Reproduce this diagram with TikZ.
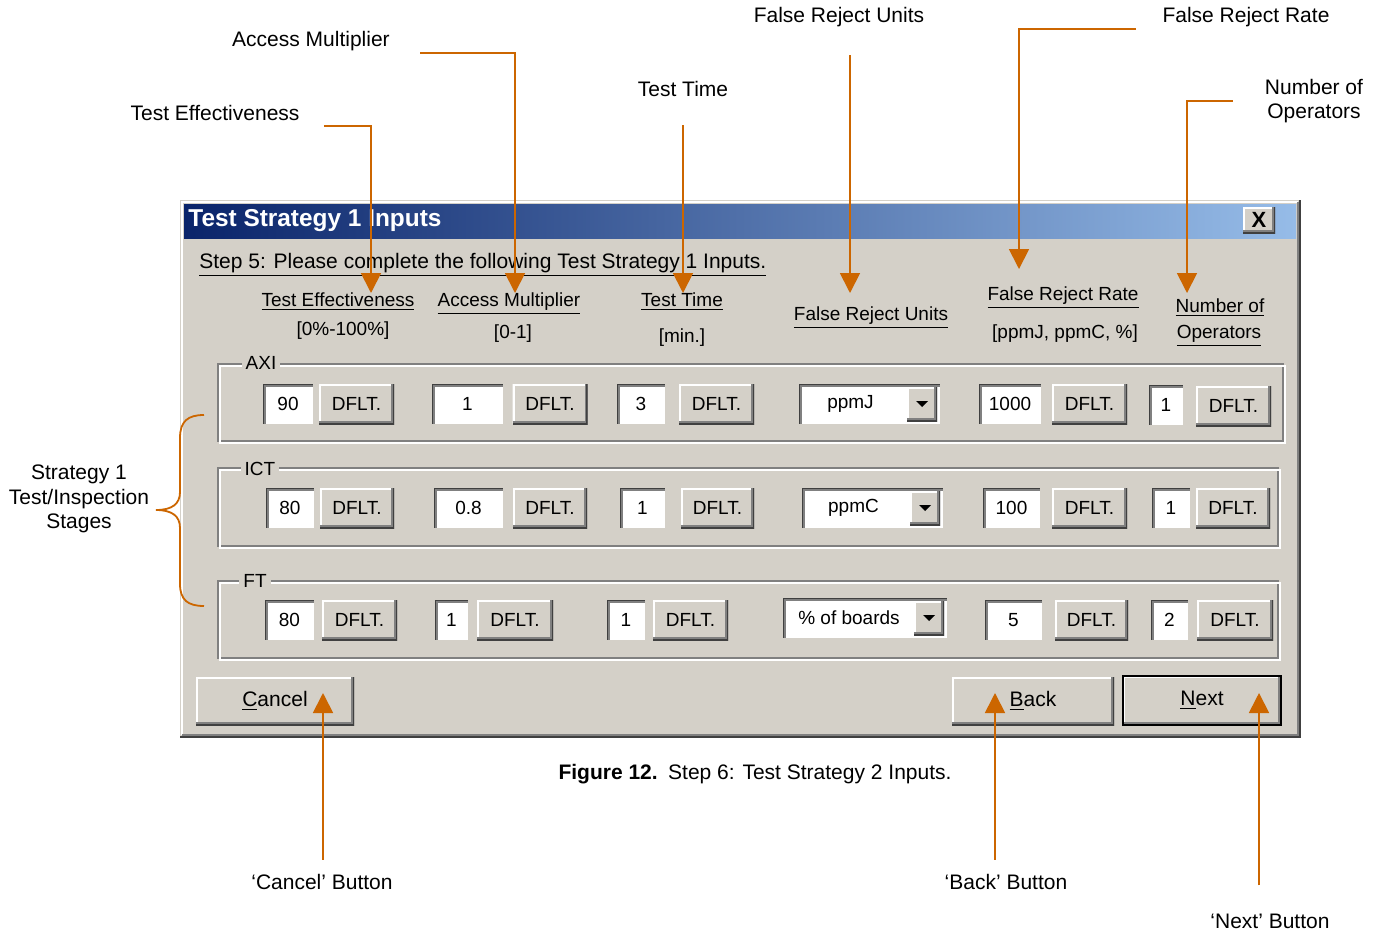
\documentclass[tikz,border=0pt]{standalone}
\usepackage{fontspec}
\setmainfont{Liberation Sans}
\usetikzlibrary{arrows.meta}

\definecolor{winFace}{RGB}{212,208,200}
\definecolor{winShadow}{RGB}{128,128,128}
\definecolor{winDark}{RGB}{64,64,64}
\definecolor{titleLeft}{RGB}{10,36,106}
\definecolor{titleRight}{RGB}{150,188,232}
\definecolor{noteOrange}{RGB}{204,102,0}

\begin{document}
\begin{tikzpicture}[x=0.5pt,y=-0.5pt,
    note/.style={font=\fontsize{10.5}{12.4}\selectfont, inner sep=1pt},
    ui/.style={font=\fontsize{9.5}{11}\selectfont, inner sep=0pt},
    sunken/.style={ui, rectangle, fill=white, minimum height=20pt,
      path picture={
        \draw[winShadow, line width=2.6pt] (path picture bounding box.south west)
          |- (path picture bounding box.north east);
        \draw[winDark, line width=1pt] (path picture bounding box.south west)
          |- (path picture bounding box.north east);
      }},
    raised/.style={ui, rectangle, fill=winFace, minimum height=20pt,
      path picture={
        \draw[white, line width=2pt] (path picture bounding box.south west)
          |- (path picture bounding box.north east);
        \draw[winShadow, line width=3pt] (path picture bounding box.south west)
          -| (path picture bounding box.north east);
        \draw[winDark, line width=1.4pt] (path picture bounding box.south west)
          -| (path picture bounding box.north east);
      }},
    dflt/.style={raised, minimum width=37.5pt},
    combo/.style={sunken, minimum width=70.5pt, execute at end node={\hspace{#1}}},
    combo/.default=19pt,
    dropbtn/.style={raised, minimum width=15pt, minimum height=17pt, anchor=east},
    group/.style={ui, fill=winFace, inner xsep=2pt},
    callout/.style={draw=noteOrange, line width=0.9pt,
      -{Triangle[length=10pt,width=10pt]}},
  ]
  \useasboundingbox (0,0) rectangle (1376,932);

  % Dialog window
  \fill[winFace] (180,200) rectangle (1300,737);
  \draw[white, line width=1pt] (182,735) -- (182,202) -- (1298,202);
  \draw[winShadow, line width=1pt] (182,735) -- (1298,735) -- (1298,202);
  \draw[winDark, line width=1pt] (180,737) -- (1300,737) -- (1300,200);
  \shade[left color=titleLeft, right color=titleRight] (184,204) rectangle (1296,238);
  \node[font=\bfseries\fontsize{12.2}{14}\selectfont, text=white, anchor=west, inner sep=0pt]
    (titleText) at (188,221) {Test Strategy 1 Inputs};
  \node[raised, font=\bfseries\fontsize{11}{12}\selectfont, minimum width=16pt, minimum height=13pt]
    (btnClose) at (1259,220) {X};

  % Instruction and column headers
  \node[ui, font=\fontsize{10.5}{12}\selectfont, anchor=west] (stepText) at (199,265)
    {\underline{Step 5: Please complete the following Test Strategy 1 Inputs.}};
  \node[ui] (hdrTE) at (338,302) {\underline{Test Effectiveness}};
  \node[ui] (rngTE) at (343,331) {[0\%-100\%]};
  \node[ui] (hdrAM) at (509,304) {\underline{Access Multiplier}};
  \node[ui] (rngAM) at (513,334) {[0-1]};
  \node[ui] (hdrTT) at (682,302) {\underline{Test Time}};
  \node[ui] (rngTT) at (682,338) {[min.]};
  \node[ui] (hdrFU) at (871,318) {\underline{False Reject Units}};
  \node[ui] (hdrFR) at (1063,298) {\underline{False Reject Rate}};
  \node[ui] (rngFR) at (1065,334) {[ppmJ, ppmC, \%]};
  \node[ui] (hdrNO) at (1220,308) {\underline{Number of}};
  \node[ui] (hdrOp) at (1219,336) {\underline{Operators}};

  % Group frames
  \draw[winShadow, line width=1pt] (218,364) rectangle (1283,441);
  \draw[white, line width=1pt] (220,366) rectangle (1285,443);
  \draw[winShadow, line width=1pt] (218,468) rectangle (1278,546);
  \draw[white, line width=1pt] (220,470) rectangle (1280,548);
  \draw[winShadow, line width=1pt] (218,581) rectangle (1278,658);
  \draw[white, line width=1pt] (220,583) rectangle (1280,660);
  \node[group] (grpAXI) at (261,363) {AXI};
  \node[group] (grpICT) at (260,469) {ICT};
  \node[group] (grpFT) at (255,581) {FT};

  % AXI row
  \node[sunken, minimum width=25pt] (axiTE) at (288,404) {90};
  \node[dflt] (axiTEd) at (356.5,404) {DFLT.};
  \node[sunken, minimum width=35.5pt] (axiAM) at (467.5,404) {1};
  \node[dflt] (axiAMd) at (550,404) {DFLT.};
  \node[sunken, minimum width=24pt] (axiTT) at (641,404) {3};
  \node[dflt] (axiTTd) at (716.5,404) {DFLT.};
  \node[combo] (axiFU) at (869.5,404) {ppmJ};
  \node[dropbtn] (axiFUbtn) at ([xshift=-1.5pt]axiFU.east) {};
  \fill ([shift={(-6,-3)}]axiFUbtn.center) -- ++(12,0) -- ++(-6,6) -- cycle;
  \node[sunken, minimum width=31pt] (axiFR) at (1010,404) {1000};
  \node[dflt] (axiFRd) at (1089.5,404) {DFLT.};
  \node[sunken, minimum width=17pt] (axiNO) at (1166,405) {1};
  \node[dflt] (axiNOd) at (1233.5,406) {DFLT.};

  % ICT row
  \node[sunken, minimum width=24pt] (ictTE) at (290,508) {80};
  \node[dflt, minimum width=37pt] (ictTEd) at (357,508) {DFLT.};
  \node[sunken, minimum width=34.5pt] (ictAM) at (468.5,508) {0.8};
  \node[dflt, minimum width=37pt] (ictAMd) at (550,508) {DFLT.};
  \node[sunken, minimum width=22.5pt] (ictTT) at (642.5,508) {1};
  \node[dflt, minimum width=36.5pt] (ictTTd) at (717.5,508) {DFLT.};
  \node[combo] (ictFU) at (872.5,508) {ppmC};
  \node[dropbtn] (ictFUbtn) at ([xshift=-1.5pt]ictFU.east) {};
  \fill ([shift={(-6,-3)}]ictFUbtn.center) -- ++(12,0) -- ++(-6,6) -- cycle;
  \node[sunken, minimum width=28.5pt] (ictFR) at (1011.5,508) {100};
  \node[dflt] (ictFRd) at (1089.5,508) {DFLT.};
  \node[sunken, minimum width=19pt] (ictNO) at (1171,508) {1};
  \node[dflt, minimum width=37pt] (ictNOd) at (1233,508) {DFLT.};

  % FT row
  \node[sunken, minimum width=24.5pt] (ftTE) at (289.5,620) {80};
  \node[dflt] (ftTEd) at (359.5,620) {DFLT.};
  \node[sunken, minimum width=16.5pt] (ftAM) at (451.5,620) {1};
  \node[dflt, minimum width=38pt] (ftAMd) at (515,620) {DFLT.};
  \node[sunken, minimum width=19pt] (ftTT) at (626,620) {1};
  \node[dflt] (ftTTd) at (690.5,620) {DFLT.};
  \node[combo=16pt, minimum width=82pt] (ftFU) at (865,618) {\% of boards};
  \node[dropbtn] (ftFUbtn) at ([xshift=-1.5pt]ftFU.east) {};
  \fill ([shift={(-6,-3)}]ftFUbtn.center) -- ++(12,0) -- ++(-6,6) -- cycle;
  \node[sunken, minimum width=28.5pt] (ftFR) at (1013.5,620) {5};
  \node[dflt, minimum width=36.5pt] (ftFRd) at (1091.5,620) {DFLT.};
  \node[sunken, minimum width=18.5pt] (ftNO) at (1169.5,620) {2};
  \node[dflt, minimum width=38pt] (ftNOd) at (1235,620) {DFLT.};

  % Buttons
  \node[raised, font=\fontsize{10.5}{12}\selectfont, minimum width=79pt, minimum height=24pt]
    (btnCancel) at (275,701) {\underline{C}ancel};
  \node[raised, font=\fontsize{10.5}{12}\selectfont, minimum width=81pt, minimum height=24pt]
    (btnBack) at (1033,701) {\underline{B}ack};
  \node[raised, font=\fontsize{10.5}{12}\selectfont, draw=black, line width=1pt,
    minimum width=79pt, minimum height=24.5pt] (btnNext) at (1202,700.5) {\underline{N}ext};

  % Callout labels
  \node[note] (noteTE) at (215,113) {Test Effectiveness};
  \node[note] (noteAM) at (311,41) {Access Multiplier};
  \node[note] (noteTT) at (683,89) {Test Time};
  \node[note] (noteFU) at (839,17) {False Reject Units};
  \node[note] (noteFR) at (1246,17) {False Reject Rate};
  \node[note, align=center] (noteNO) at (1314,101) {Number of\\Operators};
  \node[note, align=center] (noteStages) at (79,499) {Strategy 1\\Test/Inspection\\Stages};
  \node[note] (noteCancel) at (322,882) {‘Cancel’ Button};
  \node[note] (noteBack) at (1006,882) {‘Back’ Button};
  \node[note] (noteNext) at (1270,921) {‘Next’ Button};
  \node[note] (caption) at (755,774) {\textbf{Figure 12.}\enspace Step 6: Test Strategy 2 Inputs.};

  % Arrow tips
  \coordinate (tipTE) at (371,293);
  \coordinate (tipAM) at (515,293);
  \coordinate (tipTT) at (683,293);
  \coordinate (tipFU) at (850,293);
  \coordinate (tipFR) at (1019,269);
  \coordinate (tipNO) at (1187,293);
  \coordinate (tipCancel) at (323,693);
  \coordinate (tipBack) at (995,693);
  \coordinate (tipNext) at (1259,693);

  % Callouts
  \draw[callout] ([shift={(22,13)}]noteTE.east) -| (tipTE);
  \draw[callout] ([shift={(28,12)}]noteAM.east) -| (tipAM);
  \draw[callout] ([shift={(0,26)}]noteTT.south) -- (tipTT);
  \draw[callout] ([shift={(11,26)}]noteFU.south) -- (tipFU);
  \draw[callout] ([shift={(-24,12)}]noteFR.west) -| (tipFR);
  \draw[callout] ([shift={(-30,0)}]noteNO.west) -| (tipNO);
  \draw[callout] ([shift={(1,-12)}]noteCancel.north) -- (tipCancel);
  \draw[callout] ([shift={(-11,-12)}]noteBack.north) -- (tipBack);
  \draw[callout] ([shift={(-11,-26)}]noteNext.north) -- (tipNext);

  % Brace over the stages
  \draw[noteOrange, line width=0.9pt] (204,415) .. controls (188,415) and (180,421) .. (180,438)
    -- (180,492) .. controls (180,504) and (172,510) .. (156,510)
    .. controls (172,510) and (180,516) .. (180,528)
    -- (180,584) .. controls (180,600) and (188,606) .. (204,606);
\end{tikzpicture}
\end{document}
